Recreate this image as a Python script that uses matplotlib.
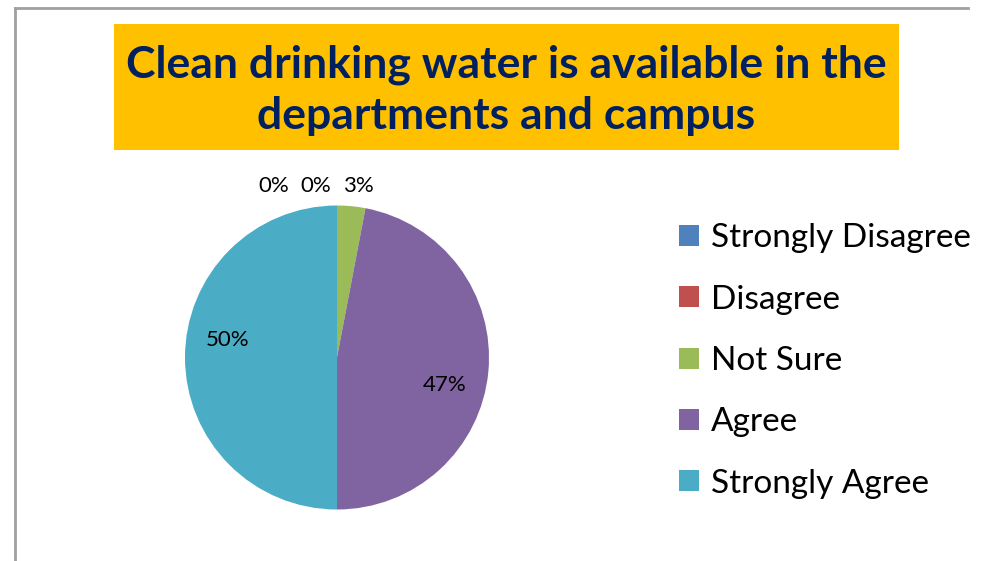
import numpy as np
import matplotlib
matplotlib.use("Agg")
import matplotlib.pyplot as plt
from matplotlib.patches import Rectangle
from matplotlib.lines import Line2D

categories = ["Strongly Disagree", "Disagree", "Not Sure", "Agree", "Strongly Agree"]
percents = [0, 0, 3, 47, 50]
colors = ["#4F81BD", "#C0504D", "#9BBB59", "#8064A2", "#4BACC6"]
title = "Clean drinking water is available in the\ndepartments and campus"

W, H = 984, 561
fig = plt.figure(figsize=(W / 100, H / 100), dpi=100)

def fx(px):
    return px / W

def fy(py):
    return 1 - py / H

# frame lines (top and left)
fig.add_artist(Line2D([fx(15), fx(968)], [fy(8), fy(8)], color="#A0A0A0", lw=2))
fig.add_artist(Line2D([fx(15), fx(15)], [fy(8), 0], color="#A0A0A0", lw=2))

# title box
fig.add_artist(Rectangle((fx(114), fy(150)), fx(899) - fx(114), fy(24) - fy(150),
                         facecolor="#FFC000", edgecolor="none", transform=fig.transFigure))
fig.text(fx(506), fy(90), title, ha="center", va="center", fontsize=32,
         fontweight="bold", color="#002060", family="Lato", linespacing=1.34)

# pie
cx, cy, r = 337, 357.5, 152
ax = fig.add_axes([fx(cx - r), fy(cy + r), 2 * r / W, 2 * r / H])
wedges, _ = ax.pie(percents, colors=colors, startangle=90, counterclock=False,
                   radius=1, wedgeprops=dict(linewidth=0))
ax.set_xlim(-1, 1)
ax.set_ylim(-1, 1)
ax.axis("off")

# data labels
prev_x = None
for w, p in zip(reversed(wedges), reversed(percents)):
    mid = np.deg2rad((w.theta1 + w.theta2) / 2)
    if p >= 10:
        a = mid - np.deg2rad(9)
        x, y = 0.73 * np.cos(a), 0.73 * np.sin(a)
    else:
        x, y = 1.15 * np.cos(mid) + 0.035, 1.13
        if prev_x is not None and x > prev_x - 0.28:
            x = prev_x - 0.28
        prev_x = x
    ax.text(x, y, f"{p}%", ha="center", va="center", fontsize=16,
            family="Lato", color="black", clip_on=False)

fig.legend(wedges, categories, loc="upper left", bbox_to_anchor=(fx(666), fy(210)),
           frameon=False, prop={"family": "Lato", "size": 24},
           handlelength=0.6, handleheight=0.6, handletextpad=0.35,
           labelspacing=0.94, borderaxespad=0)

fig.savefig("out.png", dpi=100)
